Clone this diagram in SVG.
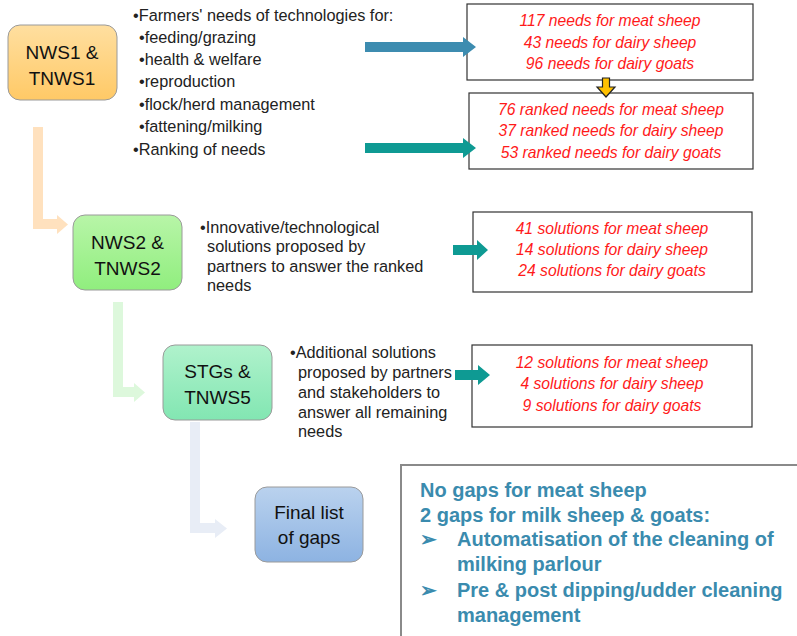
<svg xmlns="http://www.w3.org/2000/svg" width="797" height="636" viewBox="0 0 797 636">
<defs>
<linearGradient id="gOrange" x1="0" y1="0" x2="0" y2="1"><stop offset="0" stop-color="#FFDFA0"/><stop offset="1" stop-color="#FFC966"/></linearGradient>
<linearGradient id="gGreen" x1="0" y1="0" x2="0" y2="1"><stop offset="0" stop-color="#B8F5A8"/><stop offset="1" stop-color="#90EE7E"/></linearGradient>
<linearGradient id="gTeal" x1="0" y1="0" x2="0" y2="1"><stop offset="0" stop-color="#B0F2CC"/><stop offset="1" stop-color="#82E6B2"/></linearGradient>
<linearGradient id="gBlue" x1="0" y1="0" x2="0" y2="1"><stop offset="0" stop-color="#BAD2EE"/><stop offset="1" stop-color="#8DB3E2"/></linearGradient>
<style>
.node{stroke:#9a9a9a;stroke-width:1}
.nl{font-family:"Liberation Sans",Arial,sans-serif;font-size:19px;fill:#111;text-anchor:middle}
.bl{font-family:"Liberation Sans",Arial,sans-serif;font-size:16.3px;fill:#222}
.box{fill:#fff;stroke:#333;stroke-width:1.2}
.red{font-family:"Liberation Sans",Arial,sans-serif;font-size:15.7px;font-style:italic;fill:#FF1A1A;text-anchor:middle}
.gap{font-family:"Liberation Sans",Arial,sans-serif;font-size:20px;font-weight:bold;fill:#3A8BAE}
</style>
</defs>
<g id="nws1">
<rect class="node" x="8" y="25" width="109" height="75" rx="12" fill="url(#gOrange)"/>
<text class="nl" x="62" y="59">NWS1 &amp;</text>
<text class="nl" x="62" y="85">TNWS1</text>
</g>
<g id="list1">
<text class="bl" x="133" y="21">•Farmers' needs of technologies for:</text>
<text class="bl" x="139" y="43">•feeding/grazing</text>
<text class="bl" x="139" y="65">•health &amp; welfare</text>
<text class="bl" x="139" y="87">•reproduction</text>
<text class="bl" x="139" y="110">•flock/herd management</text>
<text class="bl" x="139" y="132">•fattening/milking</text>
<text class="bl" x="133" y="155">•Ranking of needs</text>
</g>
<g id="needs">
<rect class="box" x="467" y="4" width="286" height="76"/>
<text class="red" x="610" y="26">117 needs for meat sheep</text>
<text class="red" x="610" y="48">43 needs for dairy sheep</text>
<text class="red" x="610" y="69">96 needs for dairy goats</text>
</g>
<g id="ranked">
<rect class="box" x="469" y="93" width="284" height="76"/>
<text class="red" x="611" y="115">76 ranked needs for meat sheep</text>
<text class="red" x="611" y="136">37 ranked needs for dairy sheep</text>
<text class="red" x="611" y="158">53 ranked needs for dairy goats</text>
</g>
<g id="nws2">
<rect class="node" x="73" y="215" width="109" height="75" rx="12" fill="url(#gGreen)"/>
<text class="nl" x="127.5" y="249">NWS2 &amp;</text>
<text class="nl" x="127.5" y="275">TNWS2</text>
</g>
<g id="list2">
<text class="bl" x="200" y="233">•Innovative/technological</text>
<text class="bl" x="207" y="252">solutions proposed by</text>
<text class="bl" x="207" y="272">partners to answer the ranked</text>
<text class="bl" x="207" y="291">needs</text>
</g>
<g id="solutions">
<rect class="box" x="473" y="212" width="279" height="80"/>
<text class="red" x="612" y="234">41 solutions for meat sheep</text>
<text class="red" x="612" y="255">14 solutions for dairy sheep</text>
<text class="red" x="612" y="276">24 solutions for dairy goats</text>
</g>
<g id="stgs">
<rect class="node" x="163" y="345" width="109" height="75" rx="12" fill="url(#gTeal)"/>
<text class="nl" x="217.5" y="378">STGs &amp;</text>
<text class="nl" x="217.5" y="404">TNWS5</text>
</g>
<g id="list3">
<text class="bl" x="290" y="358">•Additional solutions</text>
<text class="bl" x="298" y="378">proposed by partners</text>
<text class="bl" x="298" y="398">and stakeholders to</text>
<text class="bl" x="298" y="418">answer all remaining</text>
<text class="bl" x="298" y="437">needs</text>
</g>
<g id="additional">
<rect class="box" x="472" y="345" width="280" height="82"/>
<text class="red" x="612" y="368">12 solutions for meat sheep</text>
<text class="red" x="612" y="389">4 solutions for dairy sheep</text>
<text class="red" x="612" y="411">9 solutions for dairy goats</text>
</g>
<g id="final">
<rect class="node" x="255" y="487" width="108" height="75" rx="12" fill="url(#gBlue)"/>
<text class="nl" x="309" y="519">Final list</text>
<text class="nl" x="309" y="544">of gaps</text>
</g>
<g id="gaps">
<path d="M401 637 V465 H798" fill="none" stroke="#8a8a8a" stroke-width="2"/>
<text class="gap" x="420" y="497">No gaps for meat sheep</text>
<text class="gap" x="420" y="522">2 gaps for milk sheep &amp; goats:</text>
<text class="gap" x="420" y="546">➢</text>
<text class="gap" x="457" y="546">Automatisation of the cleaning of</text>
<text class="gap" x="457" y="571">milking parlour</text>
<text class="gap" x="420" y="597">➢</text>
<text class="gap" x="457" y="597">Pre &amp; post dipping/udder cleaning</text>
<text class="gap" x="457" y="622">management</text>
</g>
<g id="connectors">
<path d="M38 127 V224 H58" fill="none" stroke="#FFE1BE" stroke-width="10"/>
<polygon points="57,215 68,224.5 57,234" fill="#FFE1BE"/>
<path d="M118 302 V392 H135" fill="none" stroke="#DDF8DC" stroke-width="10"/>
<polygon points="134,383 145,392.5 134,402" fill="#DDF8DC"/>
<path d="M195 422 V528 H216" fill="none" stroke="#E8EDF6" stroke-width="10"/>
<polygon points="215,519 227,528.5 215,538" fill="#E8EDF6"/>
<polygon points="365,42 463,42 463,37 476,47 463,57 463,52 365,52" fill="#3D8CB0"/>
<polygon points="365,143 463,143 463,138 476,148 463,158 463,153 365,153" fill="#0E9A93"/>
<polygon points="453,245 477,245 477,240 488,250 477,260 477,255 453,255" fill="#0E9A93"/>
<polygon points="455,370 478,370 478,365 490,375 478,385 478,380 455,380" fill="#0E9A93"/>
<polygon points="602.5,78 609.5,78 609.5,87 615,87 606,97 597,87 602.5,87" fill="#FFC000" stroke="#222" stroke-width="1.2"/>
</g>
</svg>
